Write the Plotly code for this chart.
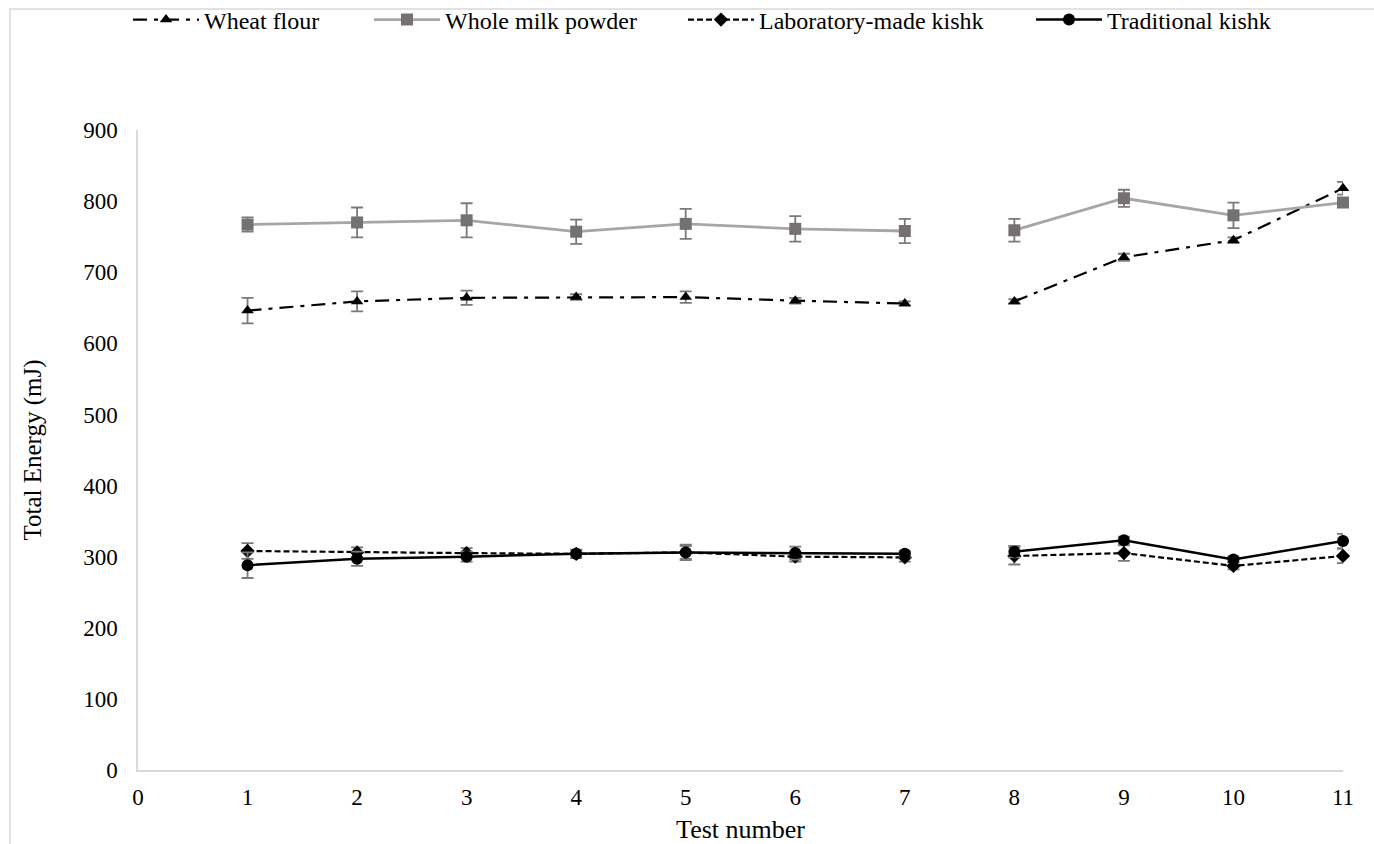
import plotly.graph_objects as go

tests = [1, 2, 3, 4, 5, 6, 7, 8, 9, 10, 11]

wheat_flour = [646, 659, 664, 665, 665, 660, 656, 659, 721, 745, 818]
wheat_flour_err = [18, 14, 10, 4, 8, 4, 3, 3, 5, 4, 9]

milk_powder = [767, 770, 773, 757, 768, 761, 758, 759, 804, 780, 798]
milk_powder_err = [10, 21, 24, 17, 21, 18, 17, 16, 12, 18, 5]

lab_kishk = [308, 306, 305, 304, 306, 300, 299, 301, 305, 287, 301]
lab_kishk_err = [11, 7, 7, 5, 9, 7, 6, 12, 11, 5, 10]

trad_kishk = [288, 297, 300, 304, 306, 305, 304, 307, 323, 296, 322]
trad_kishk_err = [18, 10, 7, 6, 11, 9, 4, 8, 5, 4, 10]

names = ["Wheat flour", "Whole milk powder", "Laboratory-made kishk", "Traditional kishk"]

# two runs of tests, drawn unconnected
segments = [(0, 7), (7, 11)]

FONT = "Liberation Serif"
ERR_COLOR = "#7a7a7a"

series = [
    dict(name=names[0], y=wheat_flour, e=wheat_flour_err,
         line=dict(color="black", width=2.2, dash="14px,7px,4px,7px"),
         marker=dict(symbol="triangle-up", size=11, color="black"), legend="legend"),
    dict(name=names[1], y=milk_powder, e=milk_powder_err, line=dict(color="#a6a6a6", width=2.8),
         marker=dict(symbol="square", size=12, color="#767171"), legend="legend2"),
    dict(name=names[2], y=lab_kishk, e=lab_kishk_err, line=dict(color="black", width=2.2, dash="6px,3px"),
         marker=dict(symbol="diamond", size=11, color="black"), legend="legend3"),
    dict(name=names[3], y=trad_kishk, e=trad_kishk_err, line=dict(color="black", width=2.5),
         marker=dict(symbol="circle", size=12, color="black"), legend="legend4"),
]

fig = go.Figure()
for s in series:
    for k, (a, b) in enumerate(segments):
        fig.add_trace(go.Scatter(
            x=tests[a:b], y=s["y"][a:b], mode="lines+markers", name=s["name"],
            line=s["line"], marker=s["marker"],
            error_y=dict(type="data", array=s["e"][a:b], visible=True, color=ERR_COLOR, thickness=1.8, width=6),
            showlegend=(k == 0), legendgroup=s["name"], legend=s["legend"], cliponaxis=False,
        ))

W, H = 1374, 844
L, R, T, B = 138, 31, 130, 74
pw, ph = W - L - R, H - T - B

def px(xp):
    return (xp - L) / pw

def py(yp):
    return 1 + (T - yp) / ph

legend_common = dict(orientation="h", yanchor="middle", xanchor="left", y=py(20),
                     font=dict(family=FONT, size=24, color="black"), bgcolor="rgba(0,0,0,0)",
                     itemwidth=66)

fig.update_layout(
    width=W, height=H,
    margin=dict(l=L, r=R, t=T, b=B, autoexpand=False),
    paper_bgcolor="white", plot_bgcolor="white",
    font=dict(family=FONT, size=23, color="black"),
    legend=dict(legend_common, x=px(128)),
    legend2=dict(legend_common, x=px(369)),
    legend3=dict(legend_common, x=px(683)),
    legend4=dict(legend_common, x=px(1031)),
    xaxis=dict(range=[0, 11], dtick=1, tick0=0, showgrid=False, zeroline=False, showline=True,
               linecolor="#d9d9d9", linewidth=1.5, ticks="", tickfont=dict(size=23),
               ticklabelstandoff=6,
               title=dict(text="Test number", font=dict(size=26), standoff=10)),
    yaxis=dict(range=[0, 900], dtick=100, tick0=0, showgrid=False, zeroline=False, showline=True,
               linecolor="#d9d9d9", linewidth=1.5, ticks="", tickfont=dict(size=23),
               ticklabelstandoff=14,
               title=dict(text="Total Energy (mJ)", font=dict(size=25), standoff=34)),
    shapes=[dict(type="rect", xref="paper", yref="paper", x0=px(10), x1=px(1500), y0=py(1000), y1=py(9),
                 line=dict(color="#d9d9d9", width=1.5), fillcolor="rgba(0,0,0,0)", layer="below")],
)

fig.write_html("out.html", config={"displayModeBar": False},
               post_script="document.body.style.margin='0';document.body.style.overflow='hidden';")
